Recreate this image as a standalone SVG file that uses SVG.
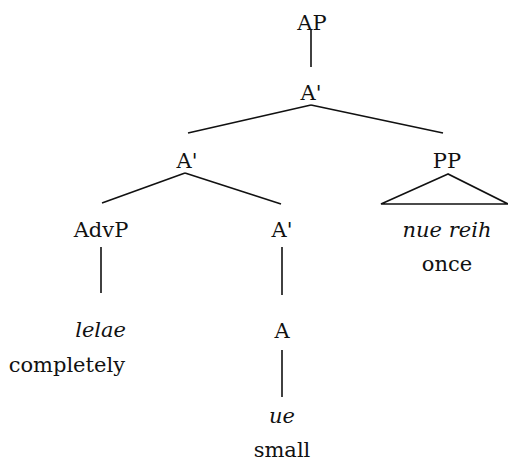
<svg xmlns="http://www.w3.org/2000/svg" width="508" height="461" viewBox="0 0 508 461">
<style>
text{font-family:"DejaVu Serif",serif;font-size:21px;fill:#111;text-anchor:middle}
.it{font-style:italic}
.e{text-anchor:end}
line,polygon{stroke:#111;stroke-width:1.6;fill:none}
</style>
<rect width="508" height="461" fill="#fff"/>
<g id="connectors">
<line x1="311" y1="30" x2="311" y2="67"/>
<line x1="311" y1="105" x2="188" y2="133"/>
<line x1="311" y1="105" x2="443" y2="133"/>
<line x1="185" y1="173" x2="102" y2="203"/>
<line x1="185" y1="173" x2="281" y2="204"/>
<line x1="101" y1="247" x2="101" y2="293"/>
<line x1="282" y1="247" x2="282" y2="295"/>
<line x1="282" y1="350" x2="282" y2="397"/>
</g>
<g id="AP"><text x="312" y="30">AP</text></g>
<g id="Abar1"><text x="311" y="100">A'</text></g>
<g id="Abar2"><text x="187" y="168">A'</text></g>
<g id="PP"><text x="447" y="168">PP</text>
<polygon points="448,174 381,204 508,204"/></g>
<g id="AdvP"><text x="101" y="237">AdvP</text></g>
<g id="Abar3"><text x="282" y="237">A'</text></g>
<g id="lelae"><text class="it e" x="126" y="337">lelae</text><text class="e" x="125" y="372">completely</text></g>
<g id="A"><text x="282" y="338">A</text></g>
<g id="ue"><text class="it" x="282" y="423">ue</text><text x="282" y="457">small</text></g>
<g id="nuereih"><text class="it" x="447" y="237">nue reih</text><text x="447" y="271">once</text></g>
</svg>
